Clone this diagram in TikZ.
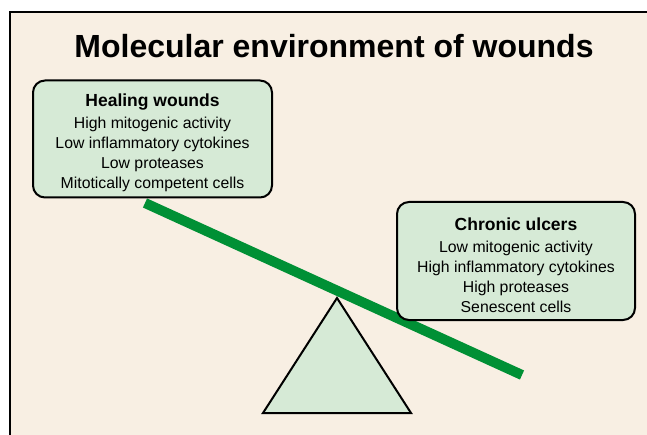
\documentclass[tikz,border=0pt]{standalone}
\usepackage{fontspec}
\setmainfont{Liberation Sans}
\definecolor{bg}{HTML}{F8EFE3}
\definecolor{boxfill}{HTML}{D6EAD6}
\definecolor{beam}{HTML}{009035}
\tikzset{
  infobox/.style={draw=black, line width=2pt, fill=boxfill, rounded corners=12pt,
    align=center, inner sep=0pt, font=\fontsize{15.8}{20}\selectfont},
}
\newcommand{\btitle}[1]{{\bfseries\fontsize{17.5}{20}\selectfont\rule{0pt}{21pt}#1}\\[2pt]}
\begin{document}
\begin{tikzpicture}[x=1pt,y=-1pt]
\useasboundingbox (0,0) rectangle (647,435);
\fill[white] (0,0) rectangle (647,435);
\fill[bg] (10,12.5) rectangle (647,435);
\draw[line width=2pt] (10,440) -- (10,12.5) -- (650,12.5);
\node[font=\bfseries\fontsize{32}{36}\selectfont, anchor=base] (title) at (334,58) {Molecular environment of wounds};
% fulcrum
\coordinate (apex) at (337,298);
\coordinate (bl) at (263,413);
\coordinate (br) at (411,413);
\draw[line width=2pt, fill=boxfill, line join=miter] (apex) -- (bl) -- (br) -- cycle;
% beam
\coordinate (l1) at (145,203);
\coordinate (l2) at (522,375);
\draw[beam, line width=10pt] (l1) -- (l2);
% boxes
\node[infobox, minimum width=239pt, minimum height=117pt] (heal) at (152.5,139)
  {\btitle{Healing wounds}High mitogenic activity\\Low inflammatory cytokines\\Low proteases\\Mitotically competent cells};
\node[infobox, minimum width=238pt, minimum height=118pt] (chronic) at (516,261)
  {\btitle{Chronic ulcers}Low mitogenic activity\\High inflammatory cytokines\\High proteases\\Senescent cells};
\end{tikzpicture}
\end{document}
